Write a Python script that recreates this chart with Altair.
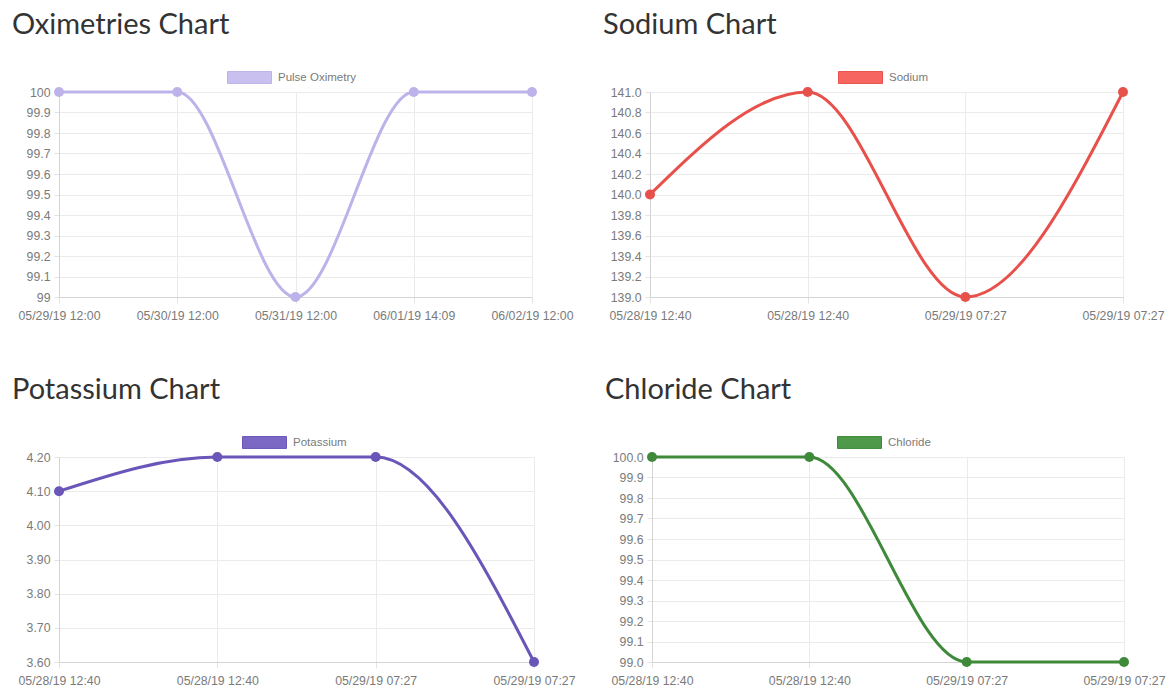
import altair as alt
import pandas as pd

# ---- data ----
ox_labels = ["05/29/19 12:00", "05/30/19 12:00", "05/31/19 12:00", "06/01/19 14:09", "06/02/19 12:00"]
ox_values = [100, 100, 99, 100, 100]

lab_labels = ["05/28/19 12:40", "05/28/19 12:40", "05/29/19 07:27", "05/29/19 07:27"]
na_values = [140.0, 141.0, 139.0, 141.0]
k_values = [4.10, 4.20, 4.20, 3.60]
cl_values = [100.0, 100.0, 99.0, 99.0]

ox_ticks = [99, 99.1, 99.2, 99.3, 99.4, 99.5, 99.6, 99.7, 99.8, 99.9, 100]
na_ticks = [139.0, 139.2, 139.4, 139.6, 139.8, 140.0, 140.2, 140.4, 140.6, 140.8, 141.0]
k_ticks = [3.6, 3.7, 3.8, 3.9, 4.0, 4.1, 4.2]
cl_ticks = [99.0, 99.1, 99.2, 99.3, 99.4, 99.5, 99.6, 99.7, 99.8, 99.9, 100.0]

TICK_FONT = "Liberation Sans"
TITLE_FONT = "Lato"
LABEL_COLOR = "#7a7a7a"
LABEL_SIZE = 12.3


def panel(title, series, labels, values, ticks, fmt, color, fill, width, legend_x):
    n = len(values)
    df = pd.DataFrame({"idx": list(range(n)), "value": values, "series": [series] * n})
    arr = "[" + ",".join("'" + s + "'" for s in labels) + "]"
    x = alt.X(
        "idx:Q",
        scale=alt.Scale(domain=[0, n - 1], nice=False, zero=False),
        axis=alt.Axis(
            values=list(range(n)), labelExpr=arr + "[datum.value]", title=None,
            grid=True, gridColor="#ebebeb", domainColor="#d4d4d4", tickColor="#e3e3e3",
            tickSize=6, labelColor=LABEL_COLOR, labelFont=TICK_FONT, labelFontSize=LABEL_SIZE,
            labelPadding=6, labelFlush=False, labelOverlap=False,
        ),
    )
    y = alt.Y(
        "value:Q",
        scale=alt.Scale(domain=[ticks[0], ticks[-1]], nice=False, zero=False),
        axis=alt.Axis(
            values=ticks, format=fmt, title=None, grid=True, gridColor="#ebebeb",
            domainColor="#d4d4d4", tickColor="#e3e3e3", tickSize=5,
            labelColor=LABEL_COLOR, labelFont=TICK_FONT, labelFontSize=LABEL_SIZE,
            labelPadding=4, labelFlush=False, labelOverlap=False,
        ),
    )
    color_enc = alt.Color(
        "series:N",
        scale=alt.Scale(domain=[series], range=[color]),
        legend=alt.Legend(
            title=None, orient="none", legendX=legend_x, legendY=-37, padding=0,
            symbolType="M-1,-0.27H1V0.27H-1Z", symbolSize=1936, symbolStrokeWidth=1,
            symbolFillColor=fill, symbolStrokeColor=color, symbolOpacity=1,
            labelFont=TICK_FONT, labelFontSize=LABEL_SIZE - 0.8, labelColor=LABEL_COLOR,
            labelOffset=6,
        ),
    )
    base = alt.Chart(df).encode(x=x, y=y)
    line = base.mark_line(interpolate="monotone", strokeWidth=3, clip=False).encode(color=color_enc)
    pts = base.mark_point(filled=True, size=100, opacity=1, clip=False, color=color)
    return alt.layer(line, pts).properties(
        width=width, height=205,
        title=alt.TitleParams(
            title, anchor="start", frame="group", dx=-47, font=TITLE_FONT, fontSize=29,
            fontWeight="normal", color="#333333", offset=15,
        ),
    )


p1 = panel("Oximetries Chart", "Pulse Oximetry", ox_labels, ox_values, ox_ticks, "~g",
           "#bdb3ea", "#c9c0f0", 473, 168)
p2 = panel("Sodium Chart", "Sodium", lab_labels, na_values, na_ticks, ".1f",
           "#e8514b", "#f76560", 473, 188)
p3 = panel("Potassium Chart", "Potassium", lab_labels, k_values, k_ticks, ".2f",
           "#6a55b8", "#7b68c4", 475, 183)
p4 = panel("Chloride Chart", "Chloride", lab_labels, cl_values, cl_ticks, ".1f",
           "#3f8a3a", "#4f9a4a", 472, 185)

row1 = alt.hconcat(p1, p2, spacing=118, bounds="flush").resolve_scale(color="independent")
row2 = alt.hconcat(p3, p4, spacing=118, bounds="flush").resolve_scale(color="independent")

chart = (
    alt.vconcat(row1, row2, spacing=365, bounds="flush")
    .resolve_scale(color="independent")
    .properties(padding={"left": 12, "top": 11, "right": 0, "bottom": 0}, background="white")
    .configure_view(stroke=None)
)

chart.save("out.html", embed_options={"renderer": "svg", "actions": False})
